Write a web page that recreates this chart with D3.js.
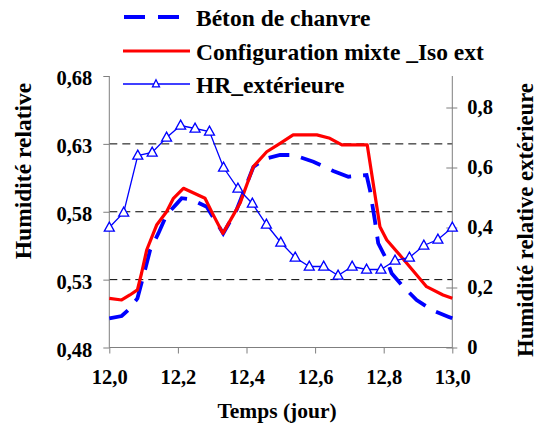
<!DOCTYPE html>
<html>
<head>
<meta charset="utf-8">
<script src="https://cdn.jsdelivr.net/npm/d3@7"></script>
<style>
  html, body { margin: 0; padding: 0; background: #fff; }
  svg { display: block; }
  svg text { font-family: "Liberation Serif", "Times New Roman", serif !important; font-weight: bold; fill: #000; }
</style>
</head>
<body>
<svg id="chart" width="538" height="425"></svg>
<script>
// ---- Data ----
const leftTicks = [0.48, 0.53, 0.58, 0.63, 0.68];
const leftTickLabels = ["0,48", "0,53", "0,58", "0,63", "0,68"];
const rightTicks = [0, 0.2, 0.4, 0.6, 0.8];
const rightTickLabels = ["0", "0,2", "0,4", "0,6", "0,8"];
const xTicks = [12.0, 12.2, 12.4, 12.6, 12.8, 13.0];
const xTickLabels = ["12,0", "12,2", "12,4", "12,6", "12,8", "13,0"];
const gridValues = [0.53, 0.58, 0.63];

const betonTimes = [12.000, 12.036, 12.055, 12.082, 12.104, 12.119, 12.143, 12.167, 12.197, 12.211,
  12.240, 12.284, 12.332, 12.371, 12.420, 12.454, 12.498, 12.536, 12.595, 12.653,
  12.697, 12.750, 12.760, 12.774, 12.784, 12.809, 12.823, 12.857, 12.896, 12.940, 12.988, 13.000];
const betonValues = [0.5015, 0.5032, 0.5076, 0.5162, 0.5371, 0.5518, 0.5640, 0.5777, 0.5860, 0.5900,
  0.5890, 0.5837, 0.5640, 0.5813, 0.6130, 0.6190, 0.6218, 0.6218, 0.6169, 0.6100,
  0.6058, 0.6070, 0.5960, 0.5740, 0.5568, 0.5445, 0.5347, 0.5248, 0.5150, 0.5076, 0.5027, 0.5015];

const mixteTimes = [12.000, 12.036, 12.060, 12.082, 12.094, 12.109, 12.138, 12.167, 12.187, 12.216,
  12.279, 12.303, 12.331, 12.362, 12.381, 12.420, 12.459, 12.498, 12.536, 12.605,
  12.643, 12.678, 12.752, 12.789, 12.809, 12.847, 12.925, 12.973, 13.000];
const mixteValues = [0.5162, 0.5150, 0.5187, 0.5224, 0.5347, 0.5518, 0.5702, 0.5800, 0.5899, 0.5973,
  0.5899, 0.5777, 0.5641, 0.5777, 0.5862, 0.6132, 0.6242, 0.6304, 0.6366, 0.6366,
  0.6341, 0.6292, 0.6292, 0.5690, 0.5592, 0.5481, 0.5248, 0.5187, 0.5162];

const hrTimes = [12.000, 12.042, 12.083, 12.125, 12.167, 12.208, 12.250, 12.292, 12.333, 12.375,
  12.417, 12.458, 12.500, 12.542, 12.583, 12.625, 12.667, 12.708, 12.750, 12.792,
  12.833, 12.875, 12.917, 12.958, 13.000];
const hrValues = [0.40, 0.45, 0.64, 0.65, 0.70, 0.74, 0.73, 0.72, 0.60, 0.53,
  0.48, 0.41, 0.35, 0.30, 0.27, 0.27, 0.24, 0.27, 0.26, 0.26,
  0.29, 0.30, 0.34, 0.36, 0.40];

const legendLabels = ["Béton de chanvre", "Configuration mixte _Iso ext", "HR_extérieure"];

// ---- Scales ----
const svg = d3.select("#chart");
const x = d3.scaleLinear().domain([12, 13]).range([109.3, 452.3]);
const yL = d3.scaleLinear().domain([0.48, 0.68]).range([347.5, 76]);
const yR = d3.scaleLinear().domain([0, 0.905]).range([347.5, 76]);

const axisColor = "#7f7f7f";
const tickFont = "20.5px";

// Gridlines
svg.append("g").selectAll("line").data(gridValues).join("line")
  .attr("x1", x(12)).attr("x2", x(13))
  .attr("y1", d => yL(d)).attr("y2", d => yL(d))
  .attr("stroke", "#000").attr("stroke-width", 1)
  .attr("stroke-dasharray", "8,5");

// Left axis
const leftAxis = d3.axisLeft(yL).tickValues(leftTicks).tickSize(6)
  .tickFormat((d, i) => leftTickLabels[i]);
const gL = svg.append("g").attr("transform", `translate(${x(12)},0)`).call(leftAxis)
  .attr("font-family", null).attr("font-size", null);
gL.select(".domain").attr("stroke", axisColor).attr("d", `M0,${yL(0.68)}V${yL(0.48)}`);
gL.selectAll(".tick line").attr("stroke", axisColor);
gL.selectAll(".tick text").attr("x", -17).attr("dy", "0.42em")
  .style("font-size", tickFont);

// Right axis
const rightAxis = d3.axisRight(yR).tickValues(rightTicks).tickSize(5)
  .tickFormat((d, i) => rightTickLabels[i]);
const gR = svg.append("g").attr("transform", `translate(${x(13)},0)`).call(rightAxis)
  .attr("font-family", null).attr("font-size", null);
gR.select(".domain").attr("stroke", axisColor).attr("d", `M0,${yR(0.905)}V${yR(0)}`);
gR.selectAll(".tick line").attr("stroke", axisColor).attr("x1", -6).attr("x2", 5);
gR.selectAll(".tick text").attr("x", 15).attr("dy", "0.3em")
  .style("font-size", tickFont);

// Bottom axis
const bottomAxis = d3.axisBottom(x).tickValues(xTicks).tickSize(6)
  .tickFormat((d, i) => xTickLabels[i]);
const gB = svg.append("g").attr("transform", `translate(0,${yL(0.48)})`).call(bottomAxis)
  .attr("font-family", null).attr("font-size", null);
gB.select(".domain").attr("stroke", axisColor).attr("d", `M${x(12)},0H${x(13)}`);
gB.selectAll(".tick line").attr("stroke", axisColor);
gB.selectAll(".tick text").attr("dy", null).attr("y", 36)
  .style("font-size", tickFont);

// Lines
const lineL = d3.line().x(d => x(d[0])).y(d => yL(d[1]));
const lineR = d3.line().x(d => x(d[0])).y(d => yR(d[1]));

const betonData = betonTimes.map((t, i) => [t, betonValues[i]]);
const mixteData = mixteTimes.map((t, i) => [t, mixteValues[i]]);
const hrData = hrTimes.map((t, i) => [t, hrValues[i]]);

svg.append("path").datum(betonData).attr("d", lineL)
  .attr("fill", "none").attr("stroke", "#0000ff").attr("stroke-width", 3.8)
  .attr("stroke-dasharray", "21,12");

svg.append("path").datum(mixteData).attr("d", lineL)
  .attr("fill", "none").attr("stroke", "#ff0000").attr("stroke-width", 3.2)
  .attr("stroke-linejoin", "round");

svg.append("path").datum(hrData).attr("d", lineR)
  .attr("fill", "none").attr("stroke", "#0000ff").attr("stroke-width", 1.3);

const tri = (w, h) => `M0,${-h * 0.6}L${w / 2},${h * 0.4}L${-w / 2},${h * 0.4}Z`;
svg.append("g").selectAll("path").data(hrData).join("path")
  .attr("transform", d => `translate(${x(d[0])},${yR(d[1])})`)
  .attr("d", tri(10, 9))
  .attr("fill", "#fff").attr("stroke", "#0000ff").attr("stroke-width", 1.3);

// Axis titles
svg.append("text").attr("transform", "translate(31,171) rotate(-90)")
  .attr("text-anchor", "middle").style("font-size", "23.5px")
  .text("Humidité relative");
svg.append("text").attr("transform", "translate(532.5,220) rotate(-90)")
  .attr("text-anchor", "middle").style("font-size", "22.7px")
  .text("Humidité relative extérieure");
svg.append("text").attr("x", 277).attr("y", 418)
  .attr("text-anchor", "middle").style("font-size", "21.5px")
  .text("Temps (jour)");

// Legend
const legY = [17, 51, 84];
const lg = svg.append("g");
lg.append("line").attr("x1", 124).attr("x2", 190).attr("y1", legY[0]).attr("y2", legY[0])
  .attr("stroke", "#0000ff").attr("stroke-width", 4).attr("stroke-dasharray", "21,13");
lg.append("line").attr("x1", 123).attr("x2", 190).attr("y1", legY[1]).attr("y2", legY[1])
  .attr("stroke", "#ff0000").attr("stroke-width", 3);
lg.append("line").attr("x1", 123).attr("x2", 190).attr("y1", legY[2]).attr("y2", legY[2])
  .attr("stroke", "#0000ff").attr("stroke-width", 1.3);
lg.append("path").attr("transform", `translate(156,${legY[2]})`).attr("d", tri(7, 7))
  .attr("fill", "#fff").attr("stroke", "#0000ff").attr("stroke-width", 1.3);
lg.selectAll("text").data(legendLabels).join("text")
  .attr("x", 196).attr("y", (d, i) => legY[i] + 8.5)
  .style("font-size", "23.5px")
  .text(d => d);
</script>
</body>
</html>
